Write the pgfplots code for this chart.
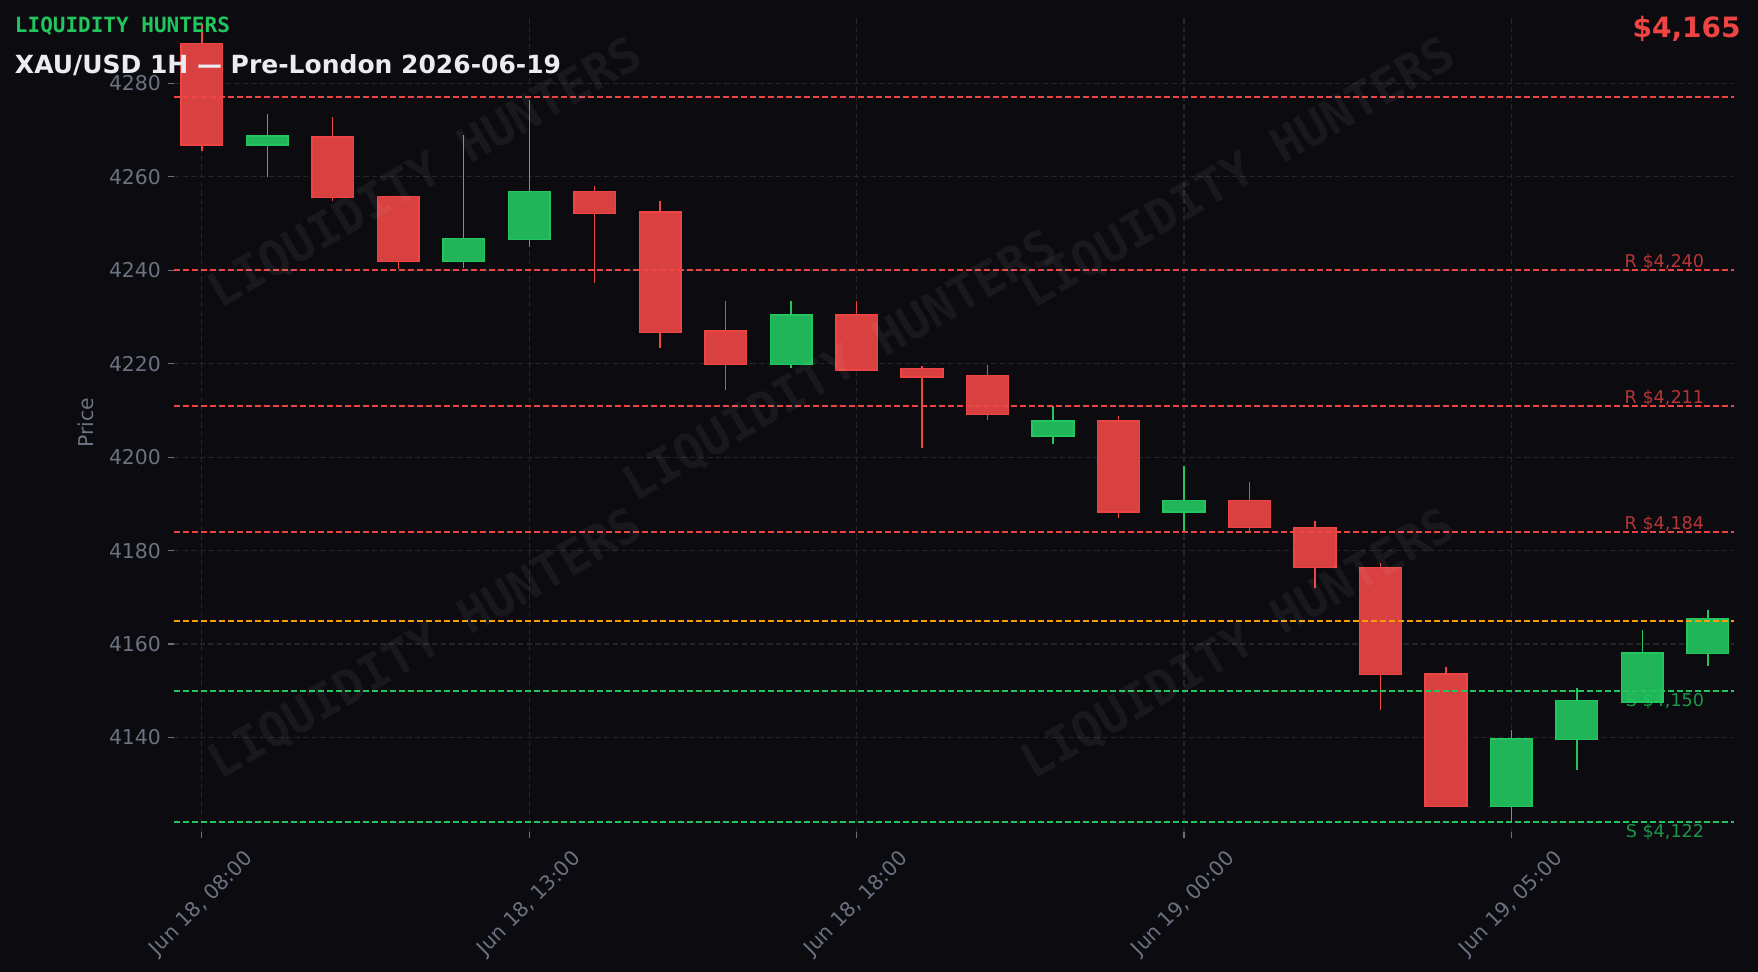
\documentclass[border=0pt]{standalone}
\usepackage{fontspec}
\setmainfont{DejaVu Sans}
\setmonofont{DejaVu Sans Mono}
\usepackage{pgfplots}
\usepackage{pgfplotstable}
\pgfplotsset{compat=1.18}

\definecolor{bg}{RGB}{11,11,16}
\definecolor{gridc}{RGB}{35,36,44}
\definecolor{tickc}{RGB}{107,114,128}
\definecolor{bull}{RGB}{34,197,94}
\definecolor{bullfill}{RGB}{33,181,89}
\definecolor{bear}{RGB}{239,68,68}
\definecolor{bearfill}{RGB}{217,64,64}
\definecolor{amber}{RGB}{245,158,11}
\definecolor{titlec}{RGB}{236,236,240}

% hourly candles, i = hour index from Jun 18 08:00
\pgfplotstableread{
i open high low close
1 4266.8 4273.3 4259.9 4268.7
4 4241.9 4269.0 4240.5 4246.8
5 4246.5 4276.4 4245.0 4256.8
9 4219.8 4233.3 4219.1 4230.4
13 4204.5 4210.9 4202.8 4207.7
15 4188.3 4198.1 4184.1 4190.7
20 4125.3 4141.7 4121.9 4139.7
21 4139.6 4150.7 4133.1 4147.9
22 4147.6 4163.1 4147.4 4158.1
23 4158.0 4167.2 4155.3 4165.4
}\bulltab

\pgfplotstableread{
i open high low close
0 4288.5 4292.6 4265.4 4266.8
2 4268.5 4272.8 4254.8 4255.5
3 4255.7 4255.7 4240.2 4241.9
6 4256.8 4258.0 4237.3 4252.1
7 4252.4 4254.8 4223.3 4226.6
8 4227.0 4233.5 4214.4 4219.8
10 4230.4 4233.3 4218.4 4218.6
11 4218.9 4219.4 4201.9 4217.1
12 4217.4 4219.8 4208.0 4209.1
14 4207.7 4208.7 4187.0 4188.3
16 4190.7 4194.6 4184.2 4184.9
17 4184.9 4186.3 4172.0 4176.4
18 4176.4 4177.3 4145.9 4153.5
19 4153.6 4155.2 4125.1 4125.3
}\beartab

% a candle part is a vertical error bar from its low end upwards
\pgfplotsset{
  candle/.style 2 args={only marks, mark=*, mark size=0pt,
    mark options={draw=none, fill=none},
    error bars/.cd, y dir=plus, y explicit, error mark=none,
    error bar style={color=#1, line width=#2, solid, line cap=butt}},
  level/.style={#1, line width=0.85pt, dash pattern=on 2.8pt off 1.7pt},
}
\newcommand{\tickfont}{\fontsize{10.2}{12}\selectfont}

\begin{document}
\begin{tikzpicture}
\fill[bg] (-87pt,-70pt) rectangle (792pt,416pt);
\begin{axis}[
  scale only axis,
  width=780pt, height=409pt,
  xmin=-0.425, xmax=23.4,
  ymin=4119.8, ymax=4294.8,
  clip mode=individual,
  axis line style={draw=none},
  tick pos=left, tick align=outside,
  major tick length=3pt,
  major tick style={tickc, line width=0.6pt},
  grid=major,
  major grid style={gridc, line width=0.6pt, dash pattern=on 2.7pt off 1.6pt},
  xtick={0,5,10,15,20},
  xticklabels={{Jun 18, 08:00},{Jun 18, 13:00},{Jun 18, 18:00},{Jun 19, 00:00},{Jun 19, 05:00}},
  ytick={4140,4160,4180,4200,4220,4240,4260,4280},
  /pgf/number format/assume math mode=true,
  /pgf/number format/1000 sep={},
  yticklabel style={font=\tickfont, text=tickc},
  xticklabel style={font=\tickfont, text=tickc, yshift=-33pt, rotate=45, anchor=center, inner sep=0pt},
  ylabel={Price},
  every axis y label/.style={at={(axis description cs:-0.0564,0.5)}, rotate=90, anchor=center, font=\tickfont, text=tickc},
]
% wicks
\addplot[candle={bull}{0.7pt}] table[x=i, y=low, y error expr={\thisrow{high}-\thisrow{low}}] {\bulltab};
\addplot[candle={bear}{0.7pt}] table[x=i, y=low, y error expr={\thisrow{high}-\thisrow{low}}] {\beartab};
% bodies: edge, then fill
\addplot[candle={bull}{21.6pt}] table[x=i, y expr={\thisrow{open}-0.15}, y error expr={\thisrow{close}-\thisrow{open}+0.3}] {\bulltab};
\addplot[candle={bullfill}{20.1pt}] table[x=i, y expr={\thisrow{open}+0.15}, y error expr={max(\thisrow{close}-\thisrow{open}-0.3,0.05)}] {\bulltab};
\addplot[candle={bear}{21.6pt}] table[x=i, y expr={\thisrow{close}-0.15}, y error expr={\thisrow{open}-\thisrow{close}+0.3}] {\beartab};
\addplot[candle={bearfill}{20.1pt}] table[x=i, y expr={\thisrow{close}+0.15}, y error expr={max(\thisrow{open}-\thisrow{close}-0.3,0.05)}] {\beartab};
% levels
\addplot[level=bear] coordinates {(-0.425,4277) (23.4,4277)};
\addplot[level=bear] coordinates {(-0.425,4240) (23.4,4240)};
\addplot[level=bear] coordinates {(-0.425,4211) (23.4,4211)};
\addplot[level=bear] coordinates {(-0.425,4184) (23.4,4184)};
\addplot[level=amber] coordinates {(-0.425,4165) (23.4,4165)};
\addplot[level=bull] coordinates {(-0.425,4150) (23.4,4150)};
\addplot[level=bull] coordinates {(-0.425,4122) (23.4,4122)};
\begin{scope}[every node/.style={inner sep=0pt, font=\fontsize{8.8}{10}\selectfont, opacity=0.75}]
\node[anchor=base east, text=bear, yshift=1.2pt] at (axis cs:22.95,4240) {R \$4,240};
\node[anchor=base east, text=bear, yshift=1.2pt] at (axis cs:22.95,4211) {R \$4,211};
\node[anchor=base east, text=bear, yshift=1.2pt] at (axis cs:22.95,4184) {R \$4,184};
\node[anchor=north east, text=bull, yshift=-1pt] at (axis cs:22.95,4150) {S \$4,150};
\node[anchor=north east, text=bull, yshift=-1pt] at (axis cs:22.95,4122) {S \$4,122};
\end{scope}
\end{axis}
% watermark
\begin{scope}[every node/.style={rotate=30, text=white, opacity=0.055, font=\ttfamily\bfseries\fontsize{24}{24}\selectfont}]
\node at (126pt,329pt) {LIQUIDITY HUNTERS};
\node at (333.5pt,232.5pt) {LIQUIDITY HUNTERS};
\node at (532.5pt,329pt) {LIQUIDITY HUNTERS};
\node at (126pt,93.5pt) {LIQUIDITY HUNTERS};
\node at (532.5pt,93.5pt) {LIQUIDITY HUNTERS};
\end{scope}
\node[anchor=west, inner sep=0pt, text=bull, font=\ttfamily\bfseries\fontsize{10.5}{12}\selectfont] at (-79.7pt,403.1pt) {LIQUIDITY HUNTERS};
\node[anchor=west, inner sep=0pt, text=titlec, font=\bfseries\fontsize{12.5}{14}\selectfont] at (-79.7pt,383.5pt) {XAU/USD 1H — Pre-London 2026-06-19};
\node[anchor=east, inner sep=0pt, text=bear, font=\bfseries\fontsize{14}{16}\selectfont] at (783.5pt,401.5pt) {\$4,165};
\pgfresetboundingbox
\path (-87pt,-70pt) rectangle (792pt,416pt);
\end{tikzpicture}
\end{document}
